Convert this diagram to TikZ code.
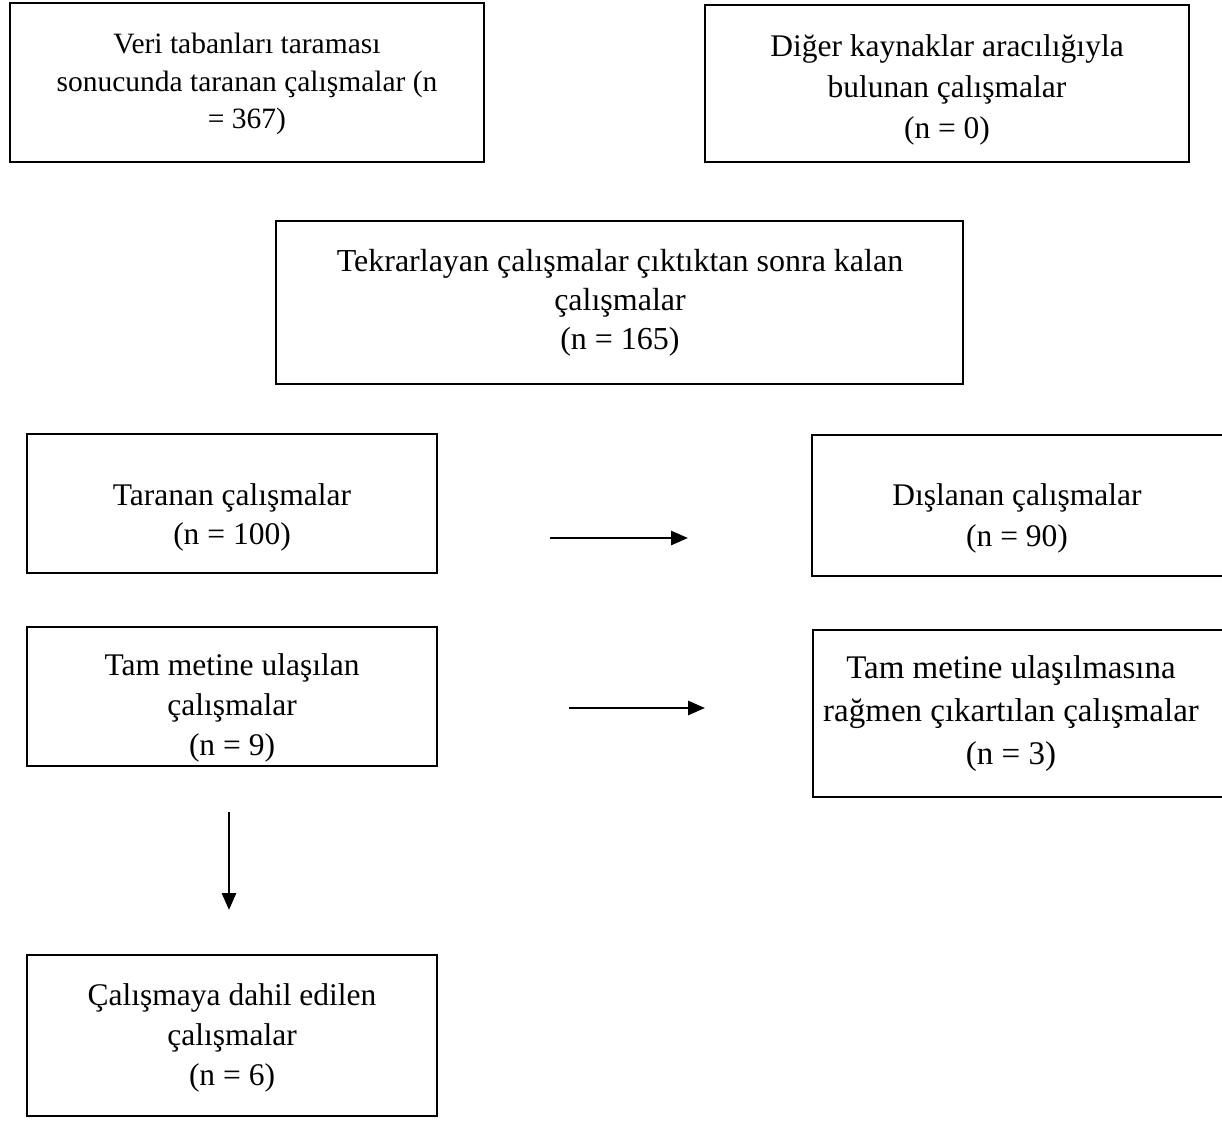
\documentclass[tikz,border=0pt]{standalone}
\usepackage{fontspec}
\setmainfont{Liberation Serif}
\usetikzlibrary{arrows.meta}
\begin{document}
\begin{tikzpicture}[x=1pt,y=-1pt,
  boxstyle/.style={draw=black, line width=2pt},
  txt/.style={align=center, inner sep=0pt, font=\fontsize{31.5}{39}\selectfont},
  conn/.style={line width=2.8pt, -{Triangle[length=17pt,width=14pt]}}]
\useasboundingbox (0,0) rectangle (1222,1123);
\clip (0,0) rectangle (1222,1123);
\fill[white] (0,0) rectangle (1222,1123);
% boxes
\draw[boxstyle] (10,3) rectangle (484,162);
\draw[boxstyle] (705,5) rectangle (1189,162);
\draw[boxstyle] (276,221) rectangle (963,384);
\draw[boxstyle] (27,434) rectangle (437,573);
\draw[boxstyle] (812,435) rectangle (1240,576);
\draw[boxstyle] (27,627) rectangle (437,766);
\draw[boxstyle] (813,630) rectangle (1240,797);
\draw[boxstyle] (27,955) rectangle (437,1116);
% texts
\node[txt, font=\fontsize{29.5}{37.5}\selectfont] (t1) at (247,84) {Veri tabanları taraması\\sonucunda taranan çalışmalar (n\\= 367)};
\node[txt, font=\fontsize{31.5}{41}\selectfont] (t2) at (947,90) {Diğer kaynaklar aracılığıyla\\bulunan çalışmalar\\(n = 0)};
\node[txt, font=\fontsize{32}{39}\selectfont] (t3) at (620,303) {Tekrarlayan çalışmalar çıktıktan sonra kalan\\çalışmalar\\(n = 165)};
\node[txt] (t4) at (232,517) {Taranan çalışmalar\\(n = 100)};
\node[txt, font=\fontsize{31.5}{41}\selectfont] (t5) at (1017,518) {Dışlanan çalışmalar\\(n = 90)};
\node[txt, font=\fontsize{31.5}{40}\selectfont] (t6) at (232,708) {Tam metine ulaşılan\\çalışmalar\\(n = 9)};
\node[txt, font=\fontsize{33}{43}\selectfont] (t7) at (1011,714) {Tam metine ulaşılmasına\\rağmen çıkartılan çalışmalar\\(n = 3)};
\node[txt, font=\fontsize{31.5}{40}\selectfont] (t8) at (232,1038) {Çalışmaya dahil edilen\\çalışmalar\\(n = 6)};
% connectors
\coordinate (a1s) at (550,538);
\coordinate (a1e) at (688,538);
\coordinate (a2s) at (569,708);
\coordinate (a2e) at (705,708);
\coordinate (a3s) at (229,812);
\coordinate (a3e) at (229,910);
\draw[conn] (a1s) -- (a1e);
\draw[conn] (a2s) -- (a2e);
\draw[conn] (a3s) -- (a3e);
\end{tikzpicture}
\end{document}
